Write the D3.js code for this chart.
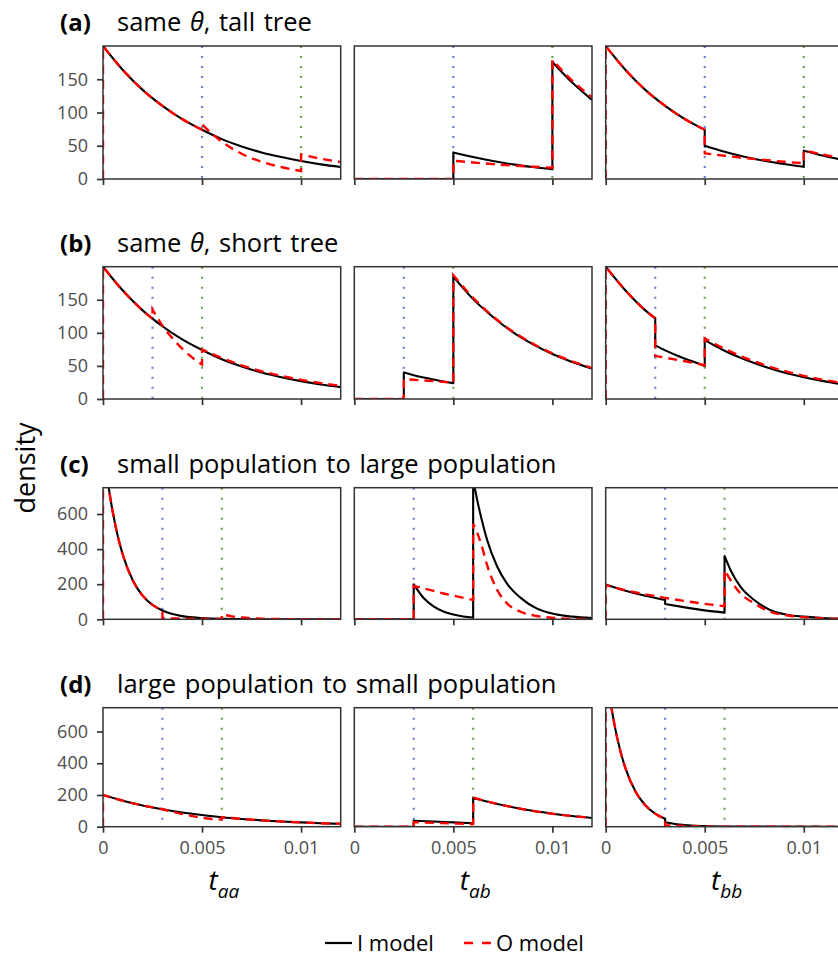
<!DOCTYPE html>
<html>
<head>
<meta charset="utf-8">
<script src="https://cdn.jsdelivr.net/npm/d3@7"></script>
<style>
  body { margin: 0; background: #fff; }
  svg { display: block; font-family: "Open Sans", sans-serif; }
</style>
</head>
<body>
<svg id="chart"></svg>
<script>

// ---- data ----
// x axis (coalescence time) and ticks
var tDomain = [0, 0.012];
var xTicks = [0, 0.005, 0.01];
var xTickLabels = ["0", "0.005", "0.01"];

// rows
var rowLetters = ["(a)", "(b)", "(c)", "(d)"];
var rowTitles = ["same θ, tall tree", "same θ, short tree",
                 "small population to large population", "large population to small population"];
var rowYMax = [200, 200, 750, 750];
var rowYTicks = [[0, 50, 100, 150], [0, 50, 100, 150], [0, 200, 400, 600], [0, 200, 400, 600]];
var blueTimes = [0.005, 0.0025, 0.003, 0.003];
var greenTimes = [0.01, 0.005, 0.006, 0.006];

// columns
var colSubs = ["aa", "ab", "bb"];

// Each series is a list of segments, each segment a list of [t, density]
// (a) same theta, tall tree
var tallAA_I = [[[0,200],[0.001,164],[0.002,134],[0.003,110],[0.004,90],[0.005,74],[0.006,60],[0.007,49],[0.008,40],[0.009,33],[0.01,27],[0.011,22],[0.012,18]]];
var tallAA_O = [[[0,0]],
  [[0,200],[0.001,164],[0.002,134],[0.003,110],[0.004,90],[0.005,74]],
  [[0.005,82],[0.0055,68],[0.006,56],[0.007,38],[0.008,26],[0.009,18],[0.01,12]],
  [[0.01,37],[0.011,30.5],[0.012,25.5]]];
var tallAB_I = [[[0,0],[0.005,0]],
  [[0.005,40],[0.006,33],[0.007,27],[0.008,22],[0.009,18],[0.01,14.6]],
  [[0.01,176],[0.011,145],[0.012,119]]];
var tallAB_O = [[[0,0],[0.005,0]],
  [[0.005,27.5],[0.006,24.8],[0.007,22.4],[0.008,20.2],[0.009,18.5],[0.01,17]],
  [[0.01,179],[0.011,148],[0.012,123]]];
var tallBB_I = [[[0,200],[0.001,164],[0.002,134],[0.003,110],[0.004,90],[0.005,74]],
  [[0.005,50],[0.006,41],[0.007,33.5],[0.008,27.4],[0.009,22.5],[0.01,18.4]],
  [[0.01,42.6],[0.011,35],[0.012,28.5]]];
var tallBB_O = [[[0,0]],
  [[0,200],[0.001,164],[0.002,134],[0.003,110],[0.004,90],[0.005,74]],
  [[0.005,38.6],[0.006,35],[0.007,31.7],[0.008,28.7],[0.009,26],[0.01,23.6]],
  [[0.01,43],[0.011,36.5],[0.012,31]]];

// (b) same theta, short tree
var shortAA_I = [[[0,200],[0.001,164],[0.002,134],[0.003,110],[0.004,90],[0.005,74],[0.006,60],[0.007,49],[0.008,40],[0.009,33],[0.01,27],[0.011,22],[0.012,18]]];
var shortAA_O = [[[0,0]],
  [[0,200],[0.001,164],[0.002,134],[0.0025,121]],
  [[0.0025,135],[0.003,111],[0.0035,92],[0.004,76],[0.0045,63],[0.005,52]],
  [[0.005,75],[0.006,62],[0.007,51],[0.008,42],[0.009,35],[0.01,29],[0.011,24],[0.012,19.8]]];
var shortAB_I = [[[0,0],[0.0025,0]],
  [[0.0025,40],[0.003,36],[0.0035,32.5],[0.004,29.5],[0.0045,26.5],[0.005,24]],
  [[0.005,185],[0.006,151],[0.007,124],[0.008,101],[0.009,83],[0.01,68],[0.011,56],[0.012,46]]];
var shortAB_O = [[[0,0],[0.0025,0]],
  [[0.0025,30],[0.003,29],[0.004,27],[0.005,24.6]],
  [[0.005,187],[0.006,153],[0.007,125],[0.008,102],[0.009,84],[0.01,69],[0.011,57],[0.012,47]]];
var shortBB_I = [[[0,200],[0.001,164],[0.002,134],[0.0025,122]],
  [[0.0025,81],[0.003,73.5],[0.0035,67],[0.004,61],[0.0045,55.5],[0.005,50]],
  [[0.005,89],[0.006,73],[0.007,60],[0.008,49],[0.009,40],[0.01,33],[0.011,27],[0.012,22]]];
var shortBB_O = [[[0,0]],
  [[0,200],[0.001,164],[0.002,134],[0.0025,122]],
  [[0.0025,65],[0.003,62.5],[0.004,57],[0.005,51]],
  [[0.005,91.5],[0.006,76],[0.007,62.5],[0.008,51.5],[0.009,42.5],[0.01,35],[0.011,29],[0.012,24]]];

// (c) small population to large population
var smallAA_I = [[[0,1000],[0.00025,779],[0.0005,607],[0.00075,472],[0.001,368],[0.0015,223],[0.002,135],[0.0025,82],[0.003,50],[0.004,18],[0.005,7],[0.006,2.5],[0.008,0.3],[0.012,0]]];
var smallAA_O = [[[0,0]],
  [[0,1000],[0.00025,779],[0.0005,607],[0.00075,472],[0.001,368],[0.0015,223],[0.002,135],[0.0025,82],[0.003,50]],
  [[0.003,6],[0.004,4],[0.005,3],[0.006,2]],
  [[0.006,28],[0.0065,17],[0.007,10],[0.008,4],[0.009,1.5],[0.01,0.6],[0.012,0.1]]];
var smallAB_I = [[[0,0],[0.003,0]],
  [[0.003,199],[0.0035,121],[0.004,73],[0.0045,44],[0.005,27],[0.0055,16],[0.006,10]],
  [[0.006,800],[0.0062,682],[0.0064,583],[0.0067,454],[0.0072,304],[0.0077,205],[0.0084,122],[0.0092,62],[0.0101,30],[0.011,15],[0.012,7]]];
var smallAB_O = [[[0,0],[0.003,0]],
  [[0.003,190],[0.004,162],[0.0045,147],[0.005,135],[0.006,110]],
  [[0.006,545],[0.0062,495],[0.0064,430],[0.0067,310],[0.0072,170],[0.0077,92],[0.0084,43],[0.0092,19],[0.0101,8],[0.011,3],[0.012,1]]];
var smallBB_I = [[[0,199],[0.001,163],[0.002,134],[0.003,110]],
  [[0.003,87],[0.004,68],[0.005,51],[0.006,38]],
  [[0.006,361],[0.0063,281],[0.0068,186],[0.0075,110],[0.0083,53],[0.0092,25],[0.01,15],[0.011,6.6],[0.012,3]]];
var smallBB_O = [[[0,0]],
  [[0,195],[0.001,166],[0.002,142],[0.003,122],[0.004,104],[0.005,88],[0.006,75]],
  [[0.006,281],[0.0065,190],[0.0068,148],[0.0075,91],[0.0083,43],[0.0092,22],[0.01,12],[0.011,5],[0.012,2]]];

// (d) large population to small population
var largeAA_I = [[[0,200],[0.001,164],[0.002,134],[0.003,110],[0.004,90],[0.005,74],[0.006,60],[0.007,49],[0.008,40],[0.009,33],[0.01,27],[0.011,22],[0.012,18]]];
var largeAA_O = [[[0,0]],
  [[0,200],[0.001,164],[0.002,134],[0.003,110]],
  [[0.003,110],[0.004,80],[0.005,56],[0.006,45]],
  [[0.006,60],[0.007,49],[0.008,40],[0.009,33],[0.01,27],[0.011,22],[0.012,18]]];
var largeAB_I = [[[0,0],[0.003,0]],
  [[0.003,38],[0.004,33],[0.005,27],[0.006,22]],
  [[0.006,183],[0.007,150],[0.008,123],[0.009,100],[0.01,82],[0.011,67],[0.012,55]]];
var largeAB_O = [[[0,0],[0.003,0]],
  [[0.003,28],[0.004,24],[0.005,20],[0.006,17]],
  [[0.006,183],[0.007,150],[0.008,123],[0.009,100],[0.01,82],[0.011,67],[0.012,55]]];
var largeBB_I = [[[0,1000],[0.00025,779],[0.0005,607],[0.00075,472],[0.001,368],[0.0015,223],[0.002,135],[0.0025,82],[0.003,50]],
  [[0.003,28],[0.0035,17],[0.004,10],[0.005,4],[0.006,1.5],[0.008,0.2],[0.012,0]]];
var largeBB_O = [[[0,0]],
  [[0,1000],[0.00025,779],[0.0005,607],[0.00075,472],[0.001,368],[0.0015,223],[0.002,135],[0.0025,82],[0.003,50]],
  [[0.003,10],[0.004,4],[0.005,1.5],[0.006,0.5],[0.012,0]]];

var iModel = [[tallAA_I, tallAB_I, tallBB_I], [shortAA_I, shortAB_I, shortBB_I],
              [smallAA_I, smallAB_I, smallBB_I], [largeAA_I, largeAB_I, largeBB_I]];
var oModel = [[tallAA_O, tallAB_O, tallBB_O], [shortAA_O, shortAB_O, shortBB_O],
              [smallAA_O, smallAB_O, smallBB_O], [largeAA_O, largeAB_O, largeBB_O]];

// ---- layout ----
var w = 838, h = 959;
var colLeft = [103, 354.3, 605.7];
var panelW = 237.7;
var rowTop = [46, 266.7, 487.7, 707.7];
var rowBottom = [179, 399, 619.3, 826.7];

var svg = d3.select("#chart").attr("width", w).attr("height", h);
var defs = svg.append("defs");

var xScale = d3.scaleLinear().domain(tDomain).range([0, panelW]);

rowTitles.forEach(function(title, r) {
  var top = rowTop[r], ph = rowBottom[r] - rowTop[r];
  var yScale = d3.scaleLinear().domain([0, rowYMax[r]]).range([ph, 0]);

  var line = d3.line()
    .x(function(d) { return xScale(d[0]); })
    .y(function(d) { return yScale(d[1]); })
    .curve(d3.curveMonotoneX);

  // joins the segments into one path so the dashes run on through the jumps
  var segPath = function(segs) {
    return segs.map(function(s, i) {
      var d = s.length > 1 ? line(s) : "M" + xScale(s[0][0]) + "," + yScale(s[0][1]);
      return i ? "L" + d.slice(1) : d;
    }).join("");
  };

  // title
  var tt = svg.append("text").attr("x", 60).attr("y", top - 15)
    .style("font-size", "24px").attr("fill", "#000");
  tt.append("tspan").style("font-weight", "bold").text(rowLetters[r]);
  var parts = title.split("θ");
  var sub = svg.append("text").attr("x", 117).attr("y", top - 15)
    .style("font-size", "25.5px").style("word-spacing", "2px").attr("fill", "#000");
  parts.forEach(function(p, i) {
    if (i) sub.append("tspan").style("font-style", "italic").text("θ");
    sub.append("tspan").text(p);
  });

  colSubs.forEach(function(cs, c) {
    var g = svg.append("g").attr("transform", "translate(" + colLeft[c] + "," + top + ")");
    var clipId = "clip" + r + c;
    defs.append("clipPath").attr("id", clipId)
      .append("rect").attr("width", panelW).attr("height", ph);

    var inner = g.append("g").attr("clip-path", "url(#" + clipId + ")");

    inner.append("line")
      .attr("x1", xScale(blueTimes[r])).attr("x2", xScale(blueTimes[r]))
      .attr("y1", 0).attr("y2", ph)
      .attr("stroke", "#6b7fd7").attr("stroke-width", 2.2).attr("stroke-dasharray", "2,8");
    inner.append("line")
      .attr("x1", xScale(greenTimes[r])).attr("x2", xScale(greenTimes[r]))
      .attr("y1", 0).attr("y2", ph)
      .attr("stroke", "#6ba34f").attr("stroke-width", 2.2).attr("stroke-dasharray", "2,8");

    inner.append("path")
      .attr("d", segPath(iModel[r][c]))
      .attr("fill", "none").attr("stroke", "#000").attr("stroke-width", 2.1)
      .attr("stroke-linejoin", "round");
    inner.append("path")
      .attr("d", segPath(oModel[r][c]))
      .attr("fill", "none").attr("stroke", "#ff0000").attr("stroke-width", 2.4)
      .attr("stroke-dasharray", "9,6");

    // x axis
    var xAxis = d3.axisBottom(xScale).tickValues(xTicks).tickSize(6).tickPadding(9)
      .tickFormat(function(d, i) { return r === 3 ? xTickLabels[i] : ""; });
    var gx = g.append("g").attr("transform", "translate(0," + ph + ")").call(xAxis);
    gx.select(".domain").remove();
    gx.selectAll(".tick line").attr("stroke", "#333").attr("stroke-width", 1.7);
    gx.selectAll(".tick text").attr("fill", "#4d4d4d").style("font-size", "18px")
      .style("font-family", "Open Sans");

    if (c === 0) {
      var yAxis = d3.axisLeft(yScale).tickValues(rowYTicks[r]).tickSize(6).tickPadding(9)
        .tickFormat(d3.format("d"));
      var gy = g.append("g").call(yAxis);
      gy.select(".domain").remove();
      gy.selectAll(".tick line").attr("stroke", "#333").attr("stroke-width", 1.7);
      gy.selectAll(".tick text").attr("fill", "#4d4d4d").style("font-size", "18px")
        .style("font-family", "Open Sans");
    }

    g.append("rect").attr("width", panelW).attr("height", ph)
      .attr("fill", "none").attr("stroke", "#333").attr("stroke-width", 1.5);
  });
});

// x axis titles
colSubs.forEach(function(cs, c) {
  var t = svg.append("text")
    .attr("x", colLeft[c] + panelW / 2 + 2).attr("y", 890)
    .attr("text-anchor", "middle").style("font-style", "italic").attr("fill", "#000");
  t.append("tspan").style("font-size", "28px").text("t");
  t.append("tspan").style("font-size", "19px").attr("dy", 8).text(cs);
});

// y axis title
svg.append("text")
  .attr("transform", "translate(35,468) rotate(-90)")
  .attr("text-anchor", "middle")
  .style("font-size", "27px").attr("fill", "#000")
  .text("density");

// legend
var legY = 943;
svg.append("line").attr("x1", 325).attr("x2", 352).attr("y1", legY).attr("y2", legY)
  .attr("stroke", "#000").attr("stroke-width", 2.2);
svg.append("text").attr("x", 357).attr("y", legY + 8).style("font-size", "22px")
  .attr("fill", "#000").text("I model");
svg.append("line").attr("x1", 464).attr("x2", 491).attr("y1", legY).attr("y2", legY)
  .attr("stroke", "#ff0000").attr("stroke-width", 2.4).attr("stroke-dasharray", "9,9");
svg.append("text").attr("x", 496).attr("y", legY + 8).style("font-size", "22px")
  .attr("fill", "#000").text("O model");

</script>
</body>
</html>
